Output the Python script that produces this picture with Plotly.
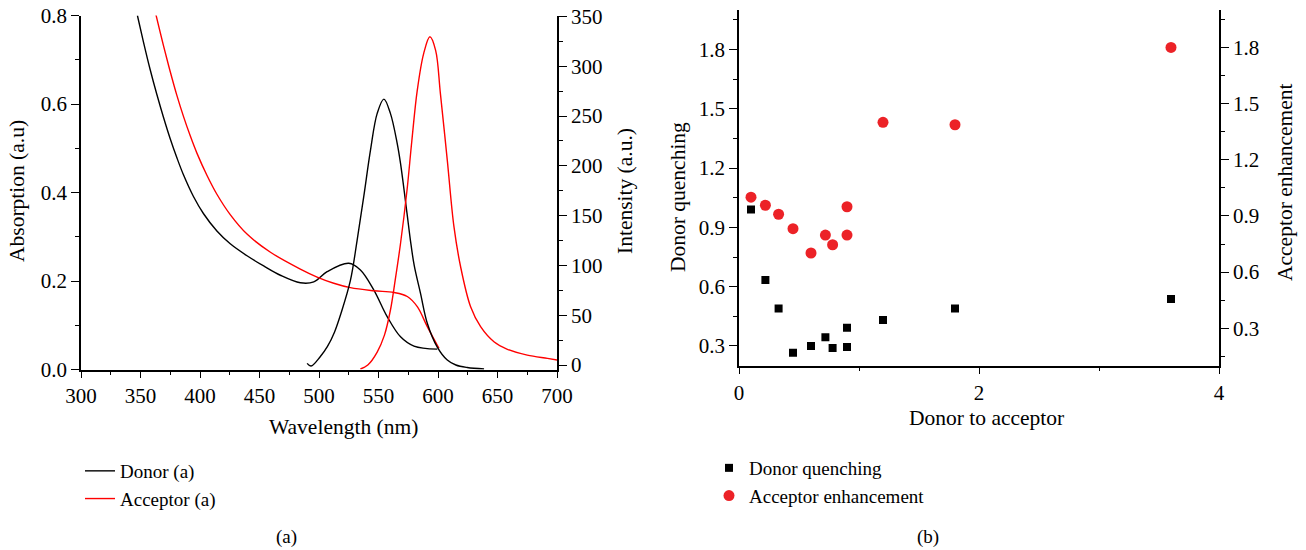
import plotly.graph_objects as go

# ---------------- Panel (a) data ----------------
donor_abs_wl = [347.4, 352.5, 358.1, 363.7, 369.3, 374.9, 380.5, 386.1, 394.5, 403, 414.2, 425.4, 439.5, 453.5,
                467.5, 484.3, 495.6, 506.8, 525, 534.8, 546, 557.4, 568.5, 579.8, 599.4]
donor_abs = [0.80, 0.74, 0.678, 0.622, 0.570, 0.522, 0.479, 0.440, 0.391, 0.352, 0.313, 0.284, 0.257, 0.234,
             0.213, 0.196, 0.198, 0.221, 0.240, 0.225, 0.18, 0.119, 0.074, 0.053, 0.046]

acc_abs_wl = [362.7, 369.3, 374.9, 380.5, 386.1, 391.8, 397.4, 405.8, 414.2, 425.4, 439.5, 459.2, 484.3, 498.4,
              512.4, 526.4, 546, 563, 574.2, 582.6, 591, 600.8]
acc_abs = [0.805, 0.732, 0.674, 0.620, 0.572, 0.528, 0.489, 0.439, 0.396, 0.350, 0.306, 0.265, 0.227, 0.209,
           0.195, 0.185, 0.178, 0.174, 0.165, 0.142, 0.097, 0.048]

donor_em_wl = [490, 493.3, 501, 507, 513, 518.5, 526.4, 532, 537.6, 543.3, 548.9, 554.5, 560, 565.7, 568.5, 574,
               576.8, 580, 585.3, 591, 599.4, 607.8, 615, 624.6, 638.7]
donor_em = [1.7, -1, 8.3, 18.4, 33, 52, 85, 125, 169, 216, 252.7, 267, 252.7, 222.6, 202.5, 152,
            125.5, 100, 72, 42, 18, 5, 0, -2.5, -4]

acc_em_wl = [534.8, 541, 548.9, 555, 560, 564, 568.5, 574, 578, 582.6, 588, 593.2, 598, 602, 607.8, 613.4, 619,
             627.4, 635.8, 647, 658.3, 675, 692, 700.4]
acc_em = [-4, 0, 13, 30, 55, 85, 122, 176, 225, 276, 313, 329.6, 316, 272.8, 205.8, 138.9, 98.7,
          58.5, 38.5, 23.4, 15.8, 10, 6.7, 5]

# ---------------- Panel (b) data ----------------
ratio = [0.1, 0.22, 0.33, 0.45, 0.6, 0.72, 0.78, 0.9, 0.9, 1.2, 1.8, 3.6]
donor_quench = [0.99, 0.634, 0.489, 0.265, 0.30, 0.344, 0.29, 0.392, 0.295, 0.431, 0.489, 0.538]
acc_enh = [1.0, 0.957, 0.909, 0.832, 0.702, 0.798, 0.746, 0.949, 0.798, 1.40, 1.387, 1.80]

W, H = 1306, 550
FONT = "Liberation Serif"
FS_TICK = 21
FS_TITLE = 21.5
FS_LEG = 19
FS_CAP = 19
RED = "#ff0000"
MRED = "#ec2227"


def px(x):
    return x / W


def py(y):
    return 1 - y / H


fig = go.Figure()

fig.add_trace(go.Scatter(x=donor_abs_wl, y=donor_abs, mode="lines", line=dict(color="black", width=1.4, shape="spline"),
                         name="Donor (a)", legend="legend", legendgroup="d", xaxis="x", yaxis="y"))
fig.add_trace(go.Scatter(x=acc_abs_wl, y=acc_abs, mode="lines", line=dict(color=RED, width=1.4, shape="spline"),
                         name="Acceptor (a)", legend="legend", legendgroup="a", xaxis="x", yaxis="y"))
fig.add_trace(go.Scatter(x=donor_em_wl, y=donor_em, mode="lines", line=dict(color="black", width=1.4, shape="spline"),
                         name="Donor (a)", showlegend=False, legendgroup="d", xaxis="x", yaxis="y2"))
fig.add_trace(go.Scatter(x=acc_em_wl, y=acc_em, mode="lines", line=dict(color=RED, width=1.4, shape="spline"),
                         name="Acceptor (a)", showlegend=False, legendgroup="a", xaxis="x", yaxis="y2"))

fig.add_trace(go.Scatter(x=ratio, y=donor_quench, mode="markers", marker=dict(symbol="square", size=8, color="black"),
                         name="Donor quenching", legend="legend2", xaxis="x2", yaxis="y3"))
fig.add_trace(go.Scatter(x=ratio, y=acc_enh, mode="markers", marker=dict(symbol="circle", size=11, color=MRED),
                         name="Acceptor enhancement", legend="legend2", xaxis="x2", yaxis="y4"))

axcommon = dict(showline=True, linecolor="black", linewidth=1.5, ticks="outside", tickcolor="black",
                tickwidth=1.3, showgrid=False, zeroline=False, automargin=False,
                tickfont=dict(family=FONT, size=FS_TICK, color="black"))

fig.update_layout(
    width=W, height=H,
    template="none",
    margin=dict(l=0, r=0, t=0, b=0, autoexpand=False),
    paper_bgcolor="white", plot_bgcolor="white",
    font=dict(family=FONT, size=FS_LEG, color="black"),
    xaxis=dict(domain=[px(81), px(557)], range=[300, 700], dtick=50, ticklen=7, anchor="y",
               minor=dict(dtick=25, ticklen=4, ticks="outside", tickcolor="black"), **axcommon),
    yaxis=dict(domain=[py(369.5), py(15.5)], range=[0, 0.8], dtick=0.2, tickformat=".1f", ticklen=8, anchor="x",
               minor=dict(dtick=0.1, ticklen=4, ticks="outside", tickcolor="black"), **axcommon),
    yaxis2=dict(overlaying="y", side="right", anchor="x", range=[-4.5, 351], dtick=50, ticklen=8,
                minor=dict(dtick=25, ticklen=4, ticks="outside", tickcolor="black"), **axcommon),
    xaxis2=dict(domain=[px(739), px(1219)], range=[0, 4], dtick=2, ticklen=7, anchor="y3",
                minor=dict(dtick=1, ticklen=4, ticks="outside", tickcolor="black"), **axcommon),
    yaxis3=dict(domain=[py(365.7), py(10)], range=[0.2, 2.0], tick0=0, dtick=0.3, tickformat=".1f", ticklen=8,
                anchor="x2",
                minor=dict(tick0=0, dtick=0.15, ticklen=4, ticks="outside", tickcolor="black"), **axcommon),
    yaxis4=dict(overlaying="y3", side="right", anchor="x2", range=[0.1, 2.0], tick0=0, dtick=0.3,
                tickformat=".1f", ticklen=8,
                minor=dict(tick0=0, dtick=0.15, ticklen=4, ticks="outside", tickcolor="black"), **axcommon),
    legend=dict(x=px(80), y=py(452), xanchor="left", yanchor="top", bgcolor="rgba(0,0,0,0)",
                font=dict(family=FONT, size=FS_LEG), itemwidth=30, tracegroupgap=0),
    legend2=dict(x=px(709), y=py(449), xanchor="left", yanchor="top", bgcolor="rgba(0,0,0,0)",
                 font=dict(family=FONT, size=FS_LEG), itemwidth=30),
)

annots = [
    dict(text="Absorption (a.u)", x=px(17), y=py(191), textangle=-90, size=FS_TITLE),
    dict(text="Intensity (a.u.)", x=px(625), y=py(191), textangle=-90, size=FS_TITLE),
    dict(text="Wavelength (nm)", x=px(343), y=py(427), textangle=0, size=FS_TITLE),
    dict(text="Donor to acceptor", x=px(986), y=py(418), textangle=0, size=FS_TITLE),
    dict(text="Donor quenching", x=px(678), y=py(197), textangle=-90, size=FS_TITLE),
    dict(text="Acceptor enhancement", x=px(1285), y=py(182), textangle=-90, size=FS_TITLE),
    dict(text="(a)", x=px(286), y=py(537), textangle=0, size=FS_CAP),
    dict(text="(b)", x=px(928), y=py(537), textangle=0, size=FS_CAP),
]
for a in annots:
    s = a.pop("size")
    fig.add_annotation(xref="paper", yref="paper", xanchor="center", yanchor="middle", showarrow=False,
                       font=dict(family=FONT, size=s, color="black"), **a)

fig.write_html("out.html")
